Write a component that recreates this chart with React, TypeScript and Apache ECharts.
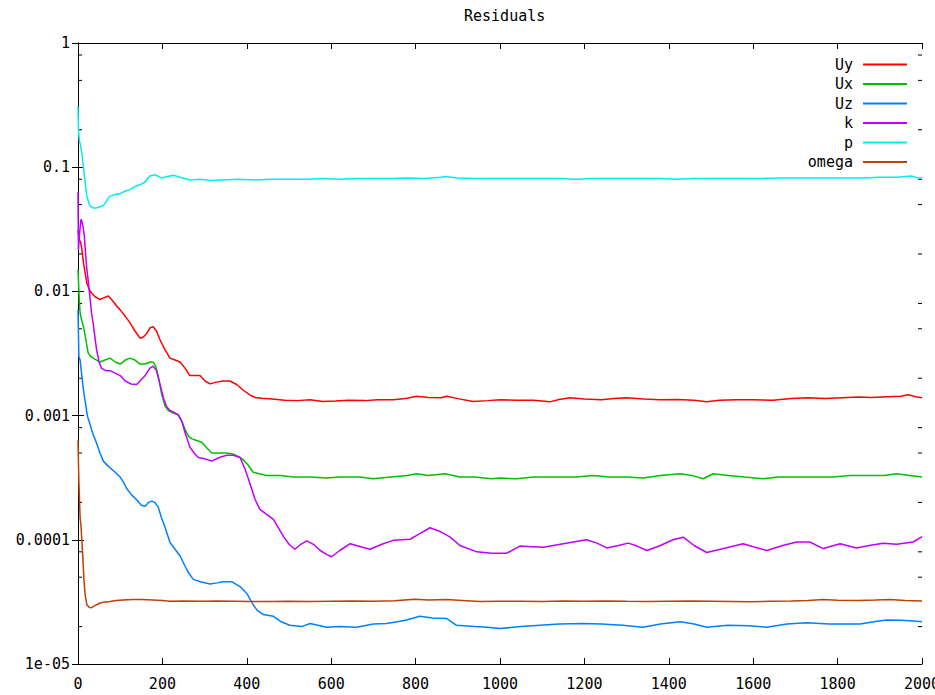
import React, { useEffect, useRef } from 'react';
import * as echarts from 'echarts';

const titleText = 'Residuals';
const seriesNames = ['Uy', 'Ux', 'Uz', 'k', 'p', 'omega'];
const seriesColors = ['#ff0000', '#00c000', '#0080ff', '#c000ff', '#00eeee', '#c04000'];
const xMin = 0;
const xMax = 2000;
const xInterval = 200;
const yMin = 1e-5;
const yMax = 1;
const yTickLabels = ['1e-05', '0.0001', '0.001', '0.01', '0.1', '1'];
const minorTickValues = [0.8, 0.5, 0.2, 0.08, 0.05, 0.02, 0.008, 0.005, 0.002, 0.0008, 0.0005, 0.0002, 0.00008, 0.00005, 0.00002];

const uyData = [[0,0.031],[3,0.026],[6,0.025],[9,0.022],[13,0.017],[17,0.014],[21,0.0117],[26,0.0105],[32,0.0097],[40,0.0091],[52,0.0086],[62,0.0089],[72,0.0092],[82,0.0084],[92,0.0076],[100,0.0071],[112,0.0063],[123,0.0056],[135,0.0048],[147,0.0042],[155,0.0043],[163,0.0046],[171,0.0051],[178,0.0052],[186,0.0048],[194,0.0041],[206,0.0034],[218,0.0029],[230,0.0028],[242,0.0027],[254,0.0024],[265,0.0021],[277,0.0021],[289,0.0021],[301,0.0019],[313,0.0018],[328,0.00186],[344,0.0019],[360,0.0019],[376,0.00178],[392,0.0016],[408,0.00146],[420,0.0014],[435,0.00138],[460,0.00136],[490,0.00133],[520,0.00132],[550,0.00134],[580,0.0013],[610,0.00131],[640,0.00133],[680,0.00132],[710,0.00134],[747,0.00134],[780,0.00138],[802,0.00143],[830,0.0014],[860,0.00139],[874,0.00143],[900,0.00137],[936,0.0013],[970,0.00132],[1000,0.00134],[1040,0.00133],[1080,0.00133],[1118,0.00129],[1140,0.00135],[1166,0.00139],[1200,0.00136],[1240,0.00134],[1270,0.00137],[1300,0.00139],[1340,0.00136],[1380,0.00134],[1420,0.00135],[1460,0.00133],[1490,0.00129],[1520,0.00133],[1560,0.00134],[1600,0.00134],[1647,0.00133],[1690,0.00137],[1730,0.00139],[1770,0.00137],[1810,0.00139],[1850,0.00141],[1880,0.0014],[1920,0.00142],[1950,0.00143],[1967,0.00147],[1985,0.00142],[2000,0.00139]];

const uxData = [[0,0.015],[3,0.0085],[5,0.0067],[9,0.0058],[13,0.0052],[18,0.0042],[24,0.0032],[30,0.003],[36,0.0029],[44,0.0028],[52,0.0027],[64,0.0028],[76,0.0029],[88,0.0027],[100,0.0026],[112,0.0028],[123,0.0029],[135,0.0028],[147,0.0026],[159,0.0026],[171,0.0027],[178,0.0027],[184,0.0025],[190,0.0021],[198,0.0015],[206,0.0012],[214,0.0011],[226,0.00105],[238,0.00101],[246,0.0009],[254,0.00077],[262,0.00068],[270,0.00065],[281,0.00063],[293,0.00061],[305,0.00055],[317,0.0005],[335,0.0005],[352,0.0005],[368,0.00049],[384,0.00046],[392,0.00044],[403,0.0004],[415,0.00035],[430,0.00034],[447,0.00033],[480,0.00033],[510,0.00032],[550,0.00032],[589,0.000314],[620,0.00032],[668,0.00032],[700,0.00031],[740,0.00032],[780,0.00033],[802,0.00034],[830,0.00033],[870,0.00034],[905,0.00032],[940,0.00032],[980,0.00031],[1000,0.000314],[1040,0.00031],[1080,0.00032],[1134,0.00032],[1180,0.00032],[1220,0.00033],[1260,0.00032],[1300,0.00032],[1339,0.000314],[1380,0.00033],[1427,0.00034],[1455,0.00033],[1481,0.00031],[1505,0.00034],[1540,0.00033],[1580,0.00032],[1623,0.00031],[1660,0.00032],[1700,0.00032],[1750,0.00032],[1789,0.00032],[1830,0.00033],[1870,0.00033],[1910,0.00033],[1940,0.00034],[1970,0.00033],[2000,0.00032]];

const uzData = [[0,0.0071],[2,0.003],[5,0.0028],[9,0.0021],[13,0.0016],[17,0.0013],[22,0.001],[28,0.00086],[36,0.0007],[44,0.0006],[52,0.0005],[60,0.00043],[72,0.00039],[84,0.00036],[100,0.00032],[108,0.00029],[115,0.00026],[127,0.00023],[139,0.00021],[150,0.00019],[159,0.000186],[167,0.0002],[175,0.000205],[182,0.0002],[190,0.000184],[198,0.00015],[206,0.000127],[212,0.00011],[218,0.000095],[230,0.000084],[242,0.000074],[252,0.000063],[261,0.000055],[273,0.000048],[290,0.000046],[313,0.000044],[330,0.000045],[344,0.000046],[364,0.000046],[384,0.000042],[400,0.000037],[415,0.00003],[425,0.000027],[439,0.000025],[463,0.0000242],[480,0.000022],[502,0.0000205],[530,0.00002],[550,0.0000212],[589,0.0000198],[620,0.00002],[660,0.0000198],[700,0.000021],[731,0.0000212],[760,0.000022],[779,0.0000226],[810,0.0000242],[840,0.0000235],[874,0.0000232],[897,0.0000205],[940,0.00002],[970,0.0000198],[1000,0.0000193],[1050,0.00002],[1095,0.0000205],[1140,0.000021],[1197,0.0000212],[1240,0.000021],[1290,0.0000205],[1339,0.0000198],[1380,0.000021],[1427,0.0000219],[1460,0.000021],[1490,0.0000198],[1540,0.0000205],[1590,0.0000203],[1632,0.0000198],[1680,0.000021],[1727,0.0000215],[1780,0.000021],[1853,0.000021],[1890,0.000022],[1916,0.0000226],[1950,0.0000225],[1980,0.0000222],[2000,0.0000219]];

const kData = [[0,0.0635],[1,0.0215],[4,0.03],[7,0.038],[9,0.037],[12,0.033],[15,0.028],[18,0.02],[21,0.015],[24,0.0124],[28,0.0092],[32,0.0067],[36,0.0055],[40,0.0043],[44,0.0034],[50,0.0027],[56,0.0024],[66,0.0023],[76,0.0023],[88,0.0022],[100,0.0021],[112,0.0019],[125,0.0018],[139,0.00178],[147,0.0019],[159,0.0021],[170,0.0024],[178,0.0025],[186,0.0023],[194,0.0018],[202,0.0014],[210,0.00118],[218,0.0011],[230,0.00105],[238,0.00101],[246,0.0009],[254,0.00072],[265,0.00056],[275,0.0005],[285,0.00046],[300,0.00045],[317,0.00043],[335,0.00046],[352,0.00048],[368,0.00048],[384,0.00046],[396,0.00037],[408,0.00028],[420,0.00021],[431,0.000176],[447,0.00016],[463,0.000146],[475,0.000125],[487,0.000106],[500,0.000092],[514,0.000084],[528,0.000092],[542,0.000098],[558,0.000092],[574,0.000082],[590,0.000076],[601,0.000073],[620,0.000082],[645,0.000093],[670,0.000088],[692,0.000084],[720,0.000092],[747,0.000099],[787,0.000101],[810,0.000112],[834,0.000125],[860,0.000116],[882,0.000105],[905,0.00009],[945,0.00008],[980,0.000078],[1016,0.000078],[1047,0.000089],[1075,0.000088],[1103,0.000087],[1150,0.000093],[1205,0.0001],[1230,0.000094],[1253,0.000086],[1280,0.00009],[1304,0.000094],[1325,0.000089],[1348,0.000082],[1380,0.00009],[1410,0.0001],[1434,0.000105],[1460,0.00009],[1490,0.000079],[1530,0.000085],[1576,0.000093],[1600,0.000088],[1632,0.000082],[1670,0.00009],[1703,0.000096],[1734,0.000096],[1766,0.000085],[1806,0.000093],[1845,0.000086],[1875,0.00009],[1908,0.000094],[1940,0.000092],[1979,0.000096],[2000,0.000106]];

const pData = [[0,0.31],[1,0.2],[3,0.166],[6,0.15],[9,0.13],[13,0.1],[17,0.075],[21,0.058],[28,0.049],[36,0.047],[43,0.047],[52,0.048],[60,0.049],[67,0.053],[74,0.058],[86,0.06],[99,0.061],[111,0.064],[123,0.066],[139,0.071],[150,0.073],[159,0.076],[170,0.085],[182,0.087],[198,0.082],[212,0.084],[226,0.086],[242,0.083],[265,0.079],[290,0.08],[313,0.078],[340,0.079],[380,0.08],[420,0.079],[460,0.08],[500,0.08],[540,0.08],[580,0.081],[620,0.08],[660,0.081],[700,0.081],[740,0.081],[780,0.082],[820,0.081],[860,0.083],[870,0.084],[900,0.082],[940,0.081],[980,0.081],[1020,0.081],[1060,0.081],[1100,0.081],[1140,0.081],[1180,0.08],[1220,0.081],[1260,0.081],[1300,0.081],[1340,0.081],[1380,0.081],[1420,0.08],[1460,0.081],[1500,0.081],[1540,0.081],[1580,0.081],[1620,0.081],[1660,0.082],[1700,0.082],[1740,0.082],[1780,0.082],[1820,0.082],[1860,0.082],[1900,0.083],[1940,0.083],[1975,0.085],[1990,0.082],[2000,0.082]];

const omegaData = [[0,0.00063],[2,0.0003],[5,0.00015],[7,0.00013],[9,0.0001],[11,0.000077],[14,0.000048],[17,0.000036],[21,0.00003],[27,0.0000285],[32,0.0000284],[40,0.0000295],[52,0.000031],[64,0.0000315],[76,0.0000319],[90,0.0000325],[107,0.0000328],[130,0.000033],[150,0.000033],[178,0.0000328],[200,0.0000325],[218,0.000032],[250,0.0000322],[297,0.000032],[330,0.0000322],[370,0.000032],[410,0.0000318],[455,0.0000319],[500,0.000032],[550,0.0000318],[600,0.000032],[650,0.0000321],[700,0.000032],[750,0.0000323],[798,0.0000332],[830,0.0000328],[874,0.000033],[910,0.0000325],[953,0.0000319],[1000,0.000032],[1050,0.000032],[1100,0.0000319],[1150,0.0000321],[1200,0.000032],[1250,0.0000322],[1300,0.000032],[1350,0.0000319],[1400,0.000032],[1450,0.0000321],[1500,0.000032],[1550,0.0000319],[1592,0.0000317],[1640,0.000032],[1690,0.0000321],[1730,0.0000325],[1766,0.000033],[1800,0.0000326],[1850,0.0000325],[1890,0.0000327],[1924,0.000033],[1960,0.0000325],[2000,0.0000321]];

const allData = [uyData, uxData, uzData, kData, pData, omegaData];

const FONT = '"DejaVu Sans Mono", monospace';

export default function App() {
  const ref = useRef<HTMLDivElement>(null);
  useEffect(() => {
    document.body.style.margin = '0';
    document.body.style.overflow = 'hidden';
    if (!ref.current) return;
    const chart = echarts.init(ref.current, undefined, { renderer: 'svg' });
    const tickStyle = { color: '#000', width: 1 };
    const yLabelFmt = (v: number) => {
      const e = Math.round(Math.log10(v));
      return yTickLabels[e + 5] ?? '';
    };
    const lineSeries = seriesNames.map((name, i) => ({
      name,
      type: 'line',
      xAxisIndex: 0,
      yAxisIndex: 0,
      data: allData[i],
      showSymbol: false,
      symbol: 'none',
      color: seriesColors[i],
      lineStyle: { color: seriesColors[i], width: 1.5 },
      itemStyle: { color: seriesColors[i] },
      clip: true,
    }));
    const minorTickSeries = {
      name: 'minorTicks',
      type: 'custom',
      xAxisIndex: 0,
      yAxisIndex: 0,
      silent: true,
      clip: false,
      data: minorTickValues.map((v) => [xMin, v]),
      renderItem: (params: any, api: any) => {
        const v = api.value(1);
        const pL = api.coord([xMin, v]);
        const pR = api.coord([xMax, v]);
        return {
          type: 'group',
          children: [
            { type: 'line', shape: { x1: pL[0], y1: pL[1], x2: pL[0] + 4, y2: pL[1] }, style: { stroke: '#000', lineWidth: 1 } },
            { type: 'line', shape: { x1: pR[0], y1: pR[1], x2: pR[0] - 4, y2: pR[1] }, style: { stroke: '#000', lineWidth: 1 } },
          ],
        };
      },
    };
    chart.setOption({
      animation: false,
      backgroundColor: '#fff',
      textStyle: { fontFamily: FONT },
      title: {
        text: titleText,
        left: 459,
        top: 3,
        textStyle: { fontFamily: FONT, fontSize: 15, fontWeight: 'normal', color: '#000' },
      },
      legend: {
        data: seriesNames,
        orient: 'vertical',
        right: 23,
        top: 52,
        align: 'right',
        icon: 'rect',
        itemWidth: 44,
        itemHeight: 2,
        itemGap: 4.5,
        textStyle: { fontFamily: FONT, fontSize: 15, color: '#000', lineHeight: 15, padding: [0, 5, 0, 0] },
      },
      grid: { left: 78, right: 13, top: 43, bottom: 31, containLabel: false, outerBoundsMode: 'none' },
      xAxis: [
        {
          type: 'value', min: xMin, max: xMax, interval: xInterval, position: 'bottom',
          axisLine: { show: true, lineStyle: { color: '#000', width: 1 } },
          axisTick: { show: true, inside: true, length: 6, lineStyle: tickStyle },
          axisLabel: { show: true, color: '#000', fontFamily: FONT, fontSize: 15, margin: 12, formatter: (v: number) => String(v) },
          splitLine: { show: false },
        },
        {
          type: 'value', min: xMin, max: xMax, interval: xInterval, position: 'top',
          axisLine: { show: true, lineStyle: { color: '#000', width: 1 } },
          axisTick: { show: true, inside: true, length: 6, lineStyle: tickStyle },
          axisLabel: { show: false },
          splitLine: { show: false },
        },
      ],
      yAxis: [
        {
          type: 'log', logBase: 10, min: yMin, max: yMax, position: 'left',
          axisLine: { show: true, lineStyle: { color: '#000', width: 1 } },
          axisTick: { show: true, inside: true, length: 6, lineStyle: tickStyle },
          axisLabel: { show: true, color: '#000', fontFamily: FONT, fontSize: 15, margin: 8, formatter: yLabelFmt },
          splitLine: { show: false },
        },
        {
          type: 'log', logBase: 10, min: yMin, max: yMax, position: 'right',
          axisLine: { show: true, lineStyle: { color: '#000', width: 1 } },
          axisTick: { show: true, inside: true, length: 6, lineStyle: tickStyle },
          axisLabel: { show: false },
          splitLine: { show: false },
        },
      ],
      series: [...lineSeries, minorTickSeries],
    });
    return () => chart.dispose();
  }, []);
  return <div ref={ref} style={{ width: 935, height: 695 }} />;
}
